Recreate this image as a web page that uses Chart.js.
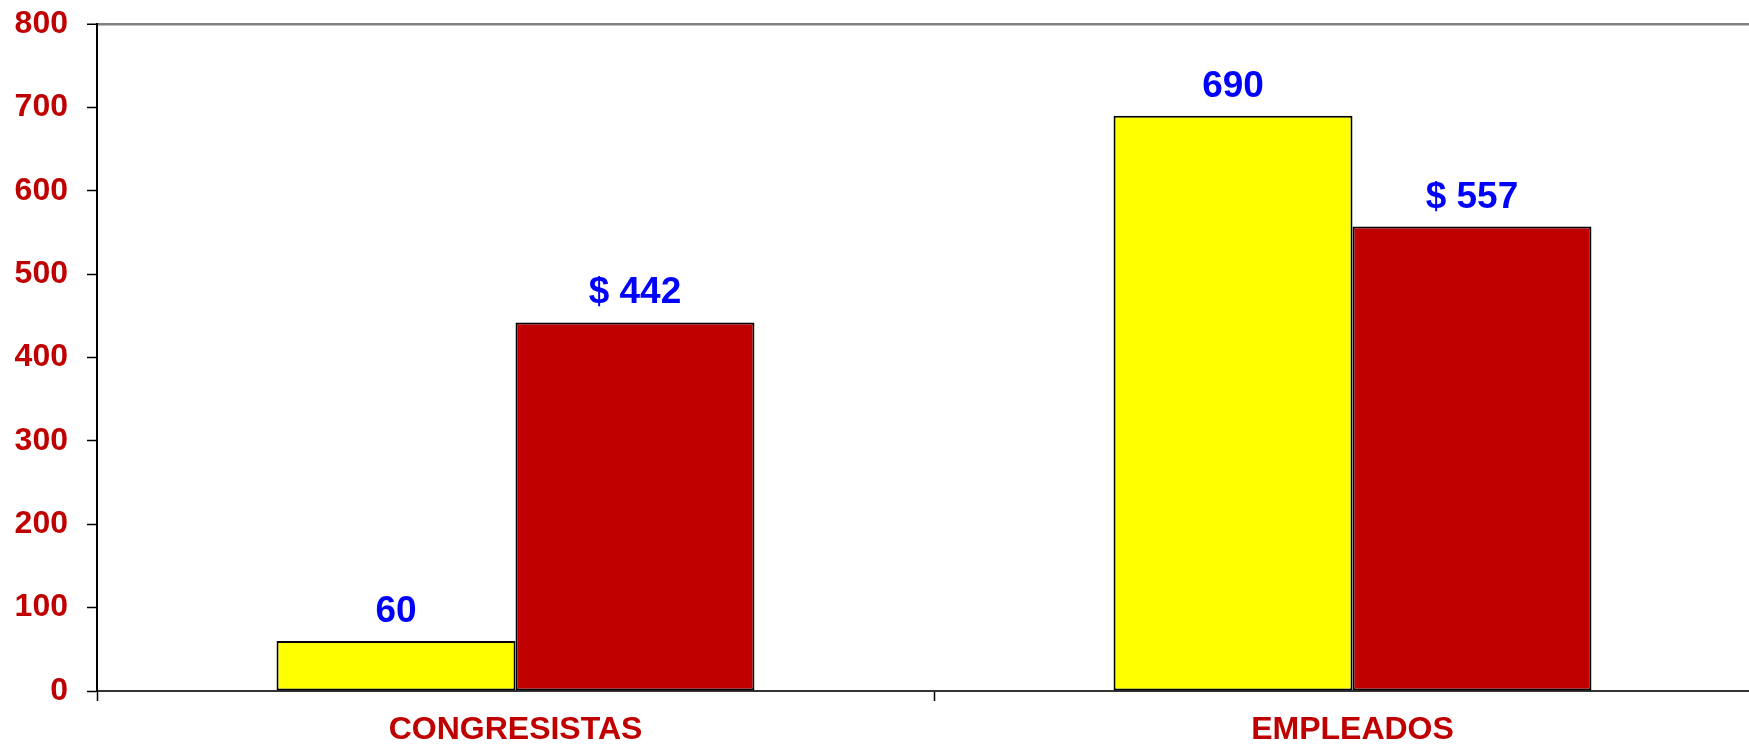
<!DOCTYPE html>
<html>
<head>
<meta charset="utf-8">
<script src="https://cdn.jsdelivr.net/npm/chart.js@4/dist/chart.umd.min.js"></script>
<style>
  html, body { margin: 0; padding: 0; background: #fff; overflow: hidden; }
  #wrap { position: relative; width: 1771px; height: 744px; }
</style>
</head>
<body>
<div id="wrap"><canvas id="c"></canvas></div>
<script>
const categories = ['CONGRESISTAS', 'EMPLEADOS'];
const seriesCount = [60, 690];
const seriesAmount = [442, 557];
const countLabels = ['60', '690'];
const amountLabels = ['$ 442', '$ 557'];
const yTicks = [0, 100, 200, 300, 400, 500, 600, 700, 800];

const FONT = "'Liberation Sans', Arial, sans-serif";
const DARKRED = '#C00000';

const valueLabels = {
  id: 'valueLabels',
  afterDatasetsDraw(chart) {
    const ctx = chart.ctx;
    const texts = [countLabels, amountLabels];
    ctx.save();
    ctx.font = 'bold 37px ' + FONT;
    ctx.fillStyle = '#0000FF';
    ctx.textAlign = 'center';
    ctx.textBaseline = 'alphabetic';
    chart.data.datasets.forEach((ds, di) => {
      const meta = chart.getDatasetMeta(di);
      meta.data.forEach((el, i) => {
        ctx.fillText(texts[di][i], el.x, el.y - 19);
      });
    });
    ctx.restore();
  }
};

new Chart(document.getElementById('c'), {
  type: 'bar',
  data: {
    labels: categories,
    datasets: [
      { data: seriesCount, backgroundColor: '#FFFF00', borderColor: '#000', borderWidth: 2, borderSkipped: false,
        barPercentage: 1, categoryPercentage: 0.571 },
      { data: seriesAmount, backgroundColor: DARKRED, borderColor: '#000', borderWidth: 2, borderSkipped: false,
        barPercentage: 1, categoryPercentage: 0.571 }
    ]
  },
  options: {
    responsive: true,
    maintainAspectRatio: false,
    animation: false,
    layout: { padding: { top: 24, left: 0, right: 0, bottom: 0 } },
    plugins: { legend: { display: false }, tooltip: { enabled: false } },
    scales: {
      x: {
        offset: true,
        grid: { offset: true, drawOnChartArea: false, tickLength: 10, tickColor: '#000', tickWidth: 1.5 },
        border: { color: '#333', width: 2 },
        ticks: { color: DARKRED, padding: 10, font: { family: FONT, size: 32, weight: 'bold' }, maxRotation: 0 },
        afterFit(scale) { scale.height = 53; scale.paddingLeft = 0; scale.paddingRight = 0; }
      },
      y: {
        min: 0, max: 800,
        afterBuildTicks(scale) { scale.ticks = yTicks.map(v => ({ value: v })); },
        grid: {
          color: ctx => (ctx.tick && ctx.tick.value === 800) ? '#808080' : 'rgba(0,0,0,0)',
          lineWidth: ctx => (ctx.tick && ctx.tick.value === 800) ? 2.5 : 1,
          tickColor: '#000', tickLength: 10, tickWidth: 1.5
        },
        border: { color: '#000', width: 2 },
        ticks: { color: DARKRED, padding: 19, font: { family: FONT, size: 32, weight: 'bold' } },
        afterFit(scale) { scale.width = 97; scale.paddingTop = 0; scale.paddingBottom = 0; }
      }
    }
  },
  plugins: [valueLabels]
});
</script>
</body>
</html>
